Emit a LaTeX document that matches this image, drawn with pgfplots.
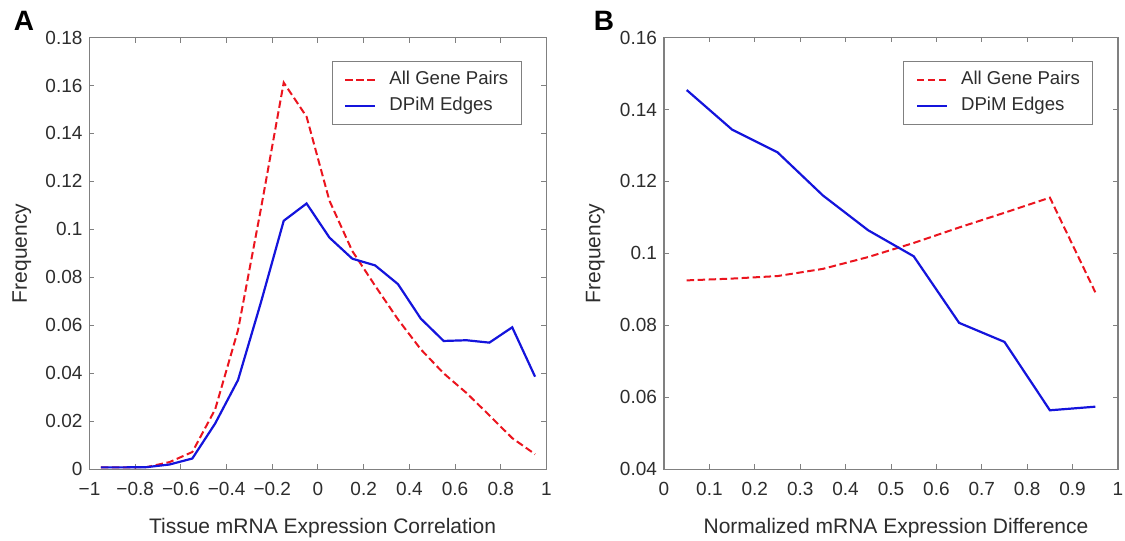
\documentclass[border=0pt]{standalone}
\usepackage{fontspec}
\setmainfont{Liberation Sans}
\usepackage{pgfplots}
\pgfplotsset{compat=1.18}

\definecolor{axgray}{RGB}{128,128,128}
\definecolor{txtgray}{RGB}{45,45,45}
\definecolor{mred}{RGB}{235,20,30}
\definecolor{mblue}{RGB}{20,20,220}

\pgfplotsset{
  panel/.style={
    scale only axis,
    width=228.5pt, height=215.9pt,
    anchor=south west,
    axis line style={axgray, line width=0.6pt},
    tick style={axgray, line width=0.5pt},
    major tick length=2.5pt,
    tick align=inside,
    xtick pos=both, ytick pos=both,
    scaled ticks=false,
    ticklabel style={font=\fontsize{9.5}{11}\selectfont, text=txtgray},
    xticklabel style={yshift=-3pt},
    label style={font=\fontsize{10.5}{12}\selectfont, text=txtgray},
    ylabel=Frequency,
    ylabel style={at={(axis description cs:-0.148,0.5)}, anchor=center},
    xlabel style={at={(axis description cs:0.51,-0.136)}, anchor=center},
    legend style={at={(axis description cs:0.946,0.946)}, anchor=north east,
      draw=axgray, line width=0.5pt, font=\fontsize{9.3}{11}\selectfont,
      text=txtgray, inner xsep=3pt, inner ysep=2.5pt,
      nodes={inner xsep=3.5pt, inner ysep=2pt, text height=7pt, text depth=2.2pt}},
    legend image code/.code={\path (0pt,0pt) (21pt,0pt);
      \draw[#1] (3pt,0pt) -- (18pt,0pt);},
    legend cell align=left,
  },
  reddash/.style={mred, line width=1pt, dash pattern=on 3.7pt off 1.8pt},
  blueline/.style={mblue, line width=1.1pt},
}

\begin{document}
\begin{tikzpicture}
\useasboundingbox (0,0) rectangle (562.5pt,270.5pt);

% panel A
\begin{axis}[panel, at={(44.75pt,35.85pt)},
    xmin=-1, xmax=1, ymin=0, ymax=0.18,
    xtick={-1,-0.8,-0.6,-0.4,-0.2,0,0.2,0.4,0.6,0.8,1},
    xticklabels={−1,−0.8,−0.6,−0.4,−0.2,0,0.2,0.4,0.6,0.8,1},
    ytick={0,0.02,0.04,0.06,0.08,0.1,0.12,0.14,0.16,0.18},
    yticklabels={0,0.02,0.04,0.06,0.08,0.1,0.12,0.14,0.16,0.18},
    xlabel={Tissue mRNA Expression Correlation}]
\addplot[reddash] coordinates {
  (-0.95,0.0008) (-0.85,0.0008) (-0.75,0.0009) (-0.65,0.0030) (-0.55,0.0072)
  (-0.45,0.0250) (-0.35,0.0580) (-0.25,0.1085) (-0.15,0.1612) (-0.05,0.1470)
  (0.05,0.1120) (0.15,0.0910) (0.25,0.0765) (0.35,0.0625) (0.45,0.0500)
  (0.55,0.0400) (0.65,0.0318) (0.75,0.0225) (0.85,0.0130) (0.95,0.0063)
};
\addlegendentry{All Gene Pairs}
\addplot[blueline] coordinates {
  (-0.95,0.0008) (-0.85,0.0008) (-0.75,0.0009) (-0.65,0.0020) (-0.55,0.0045)
  (-0.45,0.0191) (-0.35,0.0372) (-0.25,0.0695) (-0.15,0.1036) (-0.05,0.1108)
  (0.05,0.0966) (0.15,0.0878) (0.25,0.0850) (0.35,0.0772) (0.45,0.0628)
  (0.55,0.0535) (0.65,0.0538) (0.75,0.0528) (0.85,0.0592) (0.95,0.0386)
};
\addlegendentry{DPiM Edges}
\end{axis}

% panel B
\begin{axis}[panel, at={(332pt,35.85pt)}, width=227pt,
    xmin=0, xmax=1, ymin=0.04, ymax=0.16,
    xtick={0,0.1,0.2,0.3,0.4,0.5,0.6,0.7,0.8,0.9,1},
    xticklabels={0,0.1,0.2,0.3,0.4,0.5,0.6,0.7,0.8,0.9,1},
    ytick={0.04,0.06,0.08,0.1,0.12,0.14,0.16},
    yticklabels={0.04,0.06,0.08,0.1,0.12,0.14,0.16},
    ylabel style={at={(axis description cs:-0.151,0.5)}},
    xlabel style={at={(axis description cs:0.511,-0.136)}},
    xlabel={Normalized mRNA Expression Difference}]
\addplot[reddash] coordinates {
  (0.05,0.0925) (0.15,0.0930) (0.25,0.0937) (0.35,0.0957) (0.45,0.0990)
  (0.55,0.1029) (0.65,0.1072) (0.75,0.1113) (0.85,0.1155) (0.95,0.0892)
};
\addlegendentry{All Gene Pairs}
\addplot[blueline] coordinates {
  (0.05,0.1454) (0.15,0.1344) (0.25,0.1281) (0.35,0.1161) (0.45,0.1064)
  (0.55,0.0992) (0.65,0.0807) (0.75,0.0754) (0.85,0.0564) (0.95,0.0574)
};
\addlegendentry{DPiM Edges}
\end{axis}

\node[font=\bfseries\fontsize{14}{14}\selectfont] at (12pt,260pt) {A};
\node[font=\bfseries\fontsize{14}{14}\selectfont] at (302pt,260pt) {B};
\end{tikzpicture}
\end{document}
